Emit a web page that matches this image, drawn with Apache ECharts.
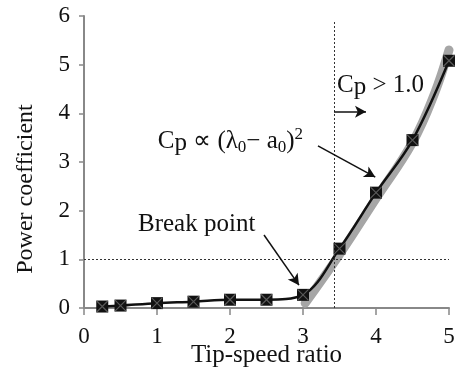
<!DOCTYPE html>
<html><head><meta charset="utf-8">
<script src="https://cdn.jsdelivr.net/npm/echarts@6/dist/echarts.min.js"></script>
<style>html,body{margin:0;padding:0;background:#fff}#c{width:456px;height:376px}</style>
</head><body><div id="c"></div>
<script>
// ---- data ----
const tipSpeed = [0.25, 0.5, 1, 1.5, 2, 2.5, 3, 3.5, 4, 4.5, 5];
const powerCoef = [0.03, 0.05, 0.1, 0.13, 0.17, 0.17, 0.27, 1.22, 2.37, 3.45, 5.08];
const fitTipSpeed = [3.03, 3.5, 4, 4.5, 4.8, 5.0];
const fitPowerCoef = [0.1, 1.1, 2.25, 3.4, 4.4, 5.3];
const refCp = 1.0;           // horizontal dashed line
const refTsr = 3.43;         // vertical dashed line
const refTsrTop = 5.88;
const xTickLabels = ['0', '1', '2', '3', '4', '5'];
const yTickLabels = ['0', '1', '2', '3', '4', '5', '6'];
const xName = 'Tip-speed ratio';
const yName = 'Power coefficient';
// annotation arrows (data coords): [from, to]
const arrowBreak = [[2.466, 1.50], [2.945, 0.47]];
const arrowCp = [[3.425, 4.03], [3.863, 4.03]];
const arrowFit = [[3.205, 3.33], [3.99, 2.69]];
// annotation text anchors (data coords)
const textBreakAt = [0.74, 1.72];
const textCpAt = [3.466, 4.58];
const textFitAt = [1.01, 3.43];

const FONT = 'Liberation Serif';
const chart = echarts.init(document.getElementById('c'), null, {renderer: 'canvas'});

const pairs = (xs, ys) => xs.map((x, i) => [x, ys[i]]);

function arrowItem(a) {
  return [
    {coord: a[0], symbol: 'none', lineStyle: {color: '#111', width: 1.5, type: 'solid'}},
    {coord: a[1], symbol: 'arrow', symbolSize: [9, 11]}
  ];
}

chart.setOption({
  animation: false,
  backgroundColor: '#fff',
  grid: {left: 84, right: 7, top: 16, bottom: 68, containLabel: false, outerBoundsMode: 'none'},
  xAxis: {
    type: 'value', min: 0, max: 5, interval: 1,
    name: xName, nameLocation: 'middle', nameGap: 35, nameMoveOverlap: false,
    nameTextStyle: {fontFamily: FONT, fontSize: 25, color: '#111'},
    axisLine: {show: true, lineStyle: {color: '#888', width: 2}},
    axisTick: {show: true, length: 7, lineStyle: {color: '#888', width: 1.5}},
    splitLine: {show: false},
    axisLabel: {fontFamily: FONT, fontSize: 23, color: '#111', margin: 17,
      formatter: v => xTickLabels[Math.round(v)]}
  },
  yAxis: {
    type: 'value', min: 0, max: 6, interval: 1,
    name: yName, nameLocation: 'middle', nameGap: 46, nameRotate: 90, nameMoveOverlap: false,
    nameTextStyle: {fontFamily: FONT, fontSize: 24, color: '#111', padding: [0, 54, 0, 0]},
    axisLine: {show: true, lineStyle: {color: '#888', width: 2}},
    axisTick: {show: true, length: 5, lineStyle: {color: '#888', width: 1.5}},
    splitLine: {show: false},
    axisLabel: {fontFamily: FONT, fontSize: 23, color: '#111', margin: 14,
      formatter: v => yTickLabels[Math.round(v)]}
  },
  series: [
    {
      type: 'line', data: [], silent: true, z: 1,
      markLine: {
        silent: true, symbol: 'none', label: {show: false}, animation: false,
        lineStyle: {color: '#333', width: 1, type: [2, 2]},
        data: [
          [{coord: [0, refCp]}, {coord: [5, refCp]}],
          [{coord: [refTsr, 0]}, {coord: [refTsr, refTsrTop]}]
        ]
      }
    },
    {
      type: 'line', data: pairs(fitTipSpeed, fitPowerCoef), smooth: 0.4,
      showSymbol: false, silent: true, z: 2,
      lineStyle: {color: '#a6a6a6', width: 9, cap: 'round'}
    },
    {
      type: 'line', data: pairs(tipSpeed, powerCoef), smooth: 0.35,
      symbol: 'rect', symbolSize: 12, silent: true, z: 3,
      itemStyle: {color: '#111'},
      lineStyle: {color: '#111', width: 2.5}
    },
    {
      type: 'scatter', data: pairs(tipSpeed, powerCoef), silent: true, z: 4,
      symbol: 'path://M0,0L10,10M10,0L0,10', symbolSize: 11,
      itemStyle: {color: 'transparent', borderColor: '#6a6a6a', borderWidth: 1.2}
    },
    {
      type: 'line', data: [], silent: true, z: 5,
      markLine: {
        silent: true, label: {show: false}, animation: false,
        lineStyle: {color: '#111', width: 1.5, type: 'solid'},
        data: [arrowItem(arrowBreak), arrowItem(arrowCp), arrowItem(arrowFit)]
      }
    }
  ]
});

const px = p => chart.convertToPixel({gridIndex: 0}, p);
const pB = px(textBreakAt), pC = px(textCpAt), pF = px(textFitAt);
const main = {fontFamily: FONT, fontSize: 25, lineHeight: 30, verticalAlign: 'middle', fill: '#111', color: '#111'};
const pStyle = {fontFamily: FONT, fontSize: 25, lineHeight: 27, verticalAlign: 'bottom', fill: '#111', color: '#111'};
chart.setOption({
  graphic: [
    {type: 'text', x: pB[0], y: pB[1], silent: true, z: 10,
      style: {text: 'Break point', fontFamily: FONT, fontSize: 25, fill: '#111',
        align: 'left', verticalAlign: 'middle'}},
    {type: 'text', x: pC[0], y: pC[1], silent: true, z: 10,
      style: {text: '{c|C}{p|p}{c| > 1.0}', align: 'left', verticalAlign: 'middle',
        rich: {c: main, p: pStyle}}},
    {type: 'text', x: pF[0], y: pF[1], silent: true, z: 10,
      style: {text: '{c|C}{p|p}{c| \u221D (\u03BB}{s|0}{c|\u2212 a}{s|0}{c|)}{u|2}', align: 'left', verticalAlign: 'middle',
        rich: {
          c: main,
          p: pStyle,
          s: {fontFamily: FONT, fontSize: 17, lineHeight: 16, verticalAlign: 'bottom', fill: '#111', color: '#111'},
          u: {fontFamily: FONT, fontSize: 17, lineHeight: 14, verticalAlign: 'top', fill: '#111', color: '#111'}
        }}}
  ]
});
</script></body></html>
